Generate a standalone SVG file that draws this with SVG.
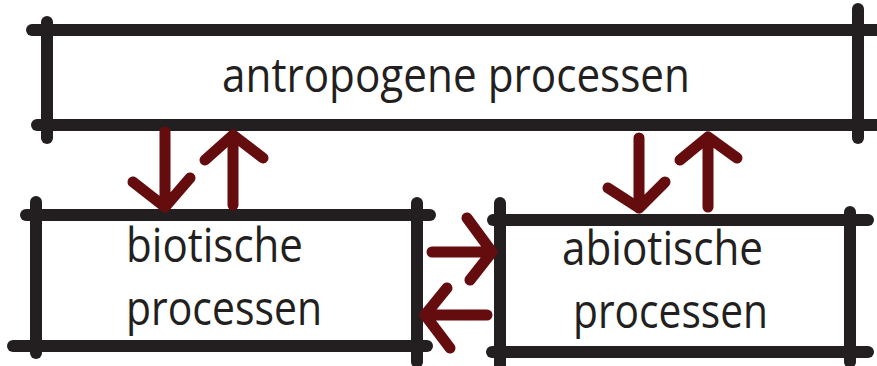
<svg xmlns="http://www.w3.org/2000/svg" width="877" height="366" viewBox="0 0 877 366">
  <style>
    .frame { stroke: #231f20; stroke-width: 12; stroke-linecap: round; fill: none; }
    .arrow { stroke: #650c0e; stroke-width: 11; stroke-linecap: round; stroke-linejoin: round; fill: none; }
    .label { font-family: "Open Sans", "Noto Sans", sans-serif; font-size: 47px; fill: #231f20; }
  </style>
  <rect width="877" height="366" fill="#ffffff"/>

  <g id="antropogene">
    <line class="frame" x1="32" y1="30" x2="880" y2="30"/>
    <line class="frame" x1="37" y1="125" x2="880" y2="125"/>
    <line class="frame" x1="47" y1="22" x2="47" y2="138"/>
    <line class="frame" x1="858" y1="9" x2="858" y2="138"/>
    <text class="label" x="222" y="92" textLength="468" lengthAdjust="spacingAndGlyphs">antropogene processen</text>
  </g>

  <g id="biotisch">
    <line class="frame" x1="26" y1="215" x2="430" y2="215"/>
    <line class="frame" x1="13" y1="346" x2="427" y2="346"/>
    <line class="frame" x1="36" y1="202" x2="36" y2="353"/>
    <line class="frame" x1="417" y1="203" x2="417" y2="362"/>
    <text class="label" x="126" y="262" textLength="177" lengthAdjust="spacingAndGlyphs">biotische</text>
    <text class="label" x="126" y="325" textLength="196" lengthAdjust="spacingAndGlyphs">processen</text>
  </g>

  <g id="abiotisch">
    <line class="frame" x1="493" y1="220" x2="868" y2="220"/>
    <line class="frame" x1="492" y1="352" x2="868" y2="352"/>
    <line class="frame" x1="500" y1="203" x2="500" y2="370"/>
    <line class="frame" x1="850" y1="212" x2="850" y2="362"/>
    <text class="label" x="562" y="265" textLength="201" lengthAdjust="spacingAndGlyphs">abiotische</text>
    <text class="label" x="573" y="328" textLength="195" lengthAdjust="spacingAndGlyphs">processen</text>
  </g>

  <g id="connectors">
    <!-- antropogene <-> biotisch -->
    <path class="arrow" d="M165 132 V207 M133 182 L165 207 L190 178"/>
    <path class="arrow" d="M233 205 V135 M205 160 L233 135 L263 158"/>
    <!-- antropogene <-> abiotisch -->
    <path class="arrow" d="M639 138 V208 M608 188 L639 208 L665 182"/>
    <path class="arrow" d="M708 207 V137 M680 160 L708 137 L737 158"/>
    <!-- biotisch <-> abiotisch -->
    <path class="arrow" d="M432 252 H492 M467 218 L492 252 L470 280"/>
    <path class="arrow" d="M487 315 H425 M447 288 L425 315 L450 348"/>
  </g>
</svg>
